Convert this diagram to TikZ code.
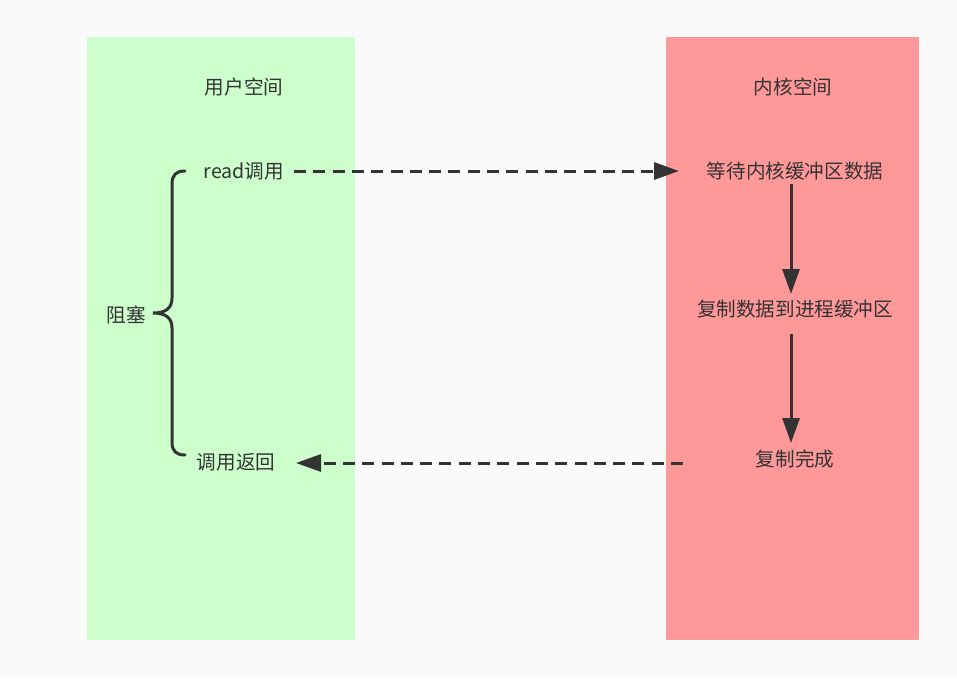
\documentclass[tikz,border=0pt]{standalone}
\usepackage{fontspec}
\setmainfont{Noto Sans CJK SC}
\usetikzlibrary{arrows.meta}
\definecolor{bg}{HTML}{FAFAFA}
\definecolor{usergreen}{HTML}{CCFFCC}
\definecolor{kernred}{HTML}{FF9999}
\definecolor{ink}{HTML}{333333}
\tikzset{
  lbl/.style={font=\fontsize{19.6}{21}\selectfont, text=ink, inner sep=0pt},
  flow/.style={draw=ink, line width=3pt, -{Triangle[length=25pt,width=17pt]}},
  dflow/.style={flow, dash pattern=on 12pt off 7.3pt},
}
\begin{document}
\begin{tikzpicture}[x=1pt,y=-1pt]
\fill[bg] (0,0) rectangle (957,678);
\useasboundingbox (0,0) rectangle (957,678);
\fill[usergreen] (87,37) rectangle (355,640);
\fill[kernred] (666,37) rectangle (919,640);

\node[lbl] (user) at (244,87) {用户空间};
\node[lbl] (kern) at (793,87) {内核空间};
\node[lbl] (read) at (244,171) {read调用};
\node[lbl] (wait) at (795,171) {等待内核缓冲区数据};
\node[lbl] (copy) at (795,309) {复制数据到进程缓冲区};
\node[lbl] (done) at (795,459) {复制完成};
\node[lbl] (ret) at (236,462) {调用返回};
\node[lbl] (block) at (126,315) {阻塞};

\coordinate (rs) at (294,171);
\coordinate (re) at (679,171);
\coordinate (bs) at (683,463);
\coordinate (be) at (296,463);
\coordinate (a1s) at (791,184);
\coordinate (a1e) at (791,294);
\coordinate (a2s) at (791,334);
\coordinate (a2e) at (791,443);

\draw[dflow] (rs) -- (re);
\draw[dflow] (bs) -- (be);
\draw[flow] (a1s) -- (a1e);
\draw[flow] (a2s) -- (a2e);

\coordinate (bt) at (185,171);
\coordinate (bm) at (153,313);
\coordinate (bb) at (185,455);
\draw[ink, line width=3pt, line cap=round]
  (bt) .. controls (176,171) and (172,175) .. (172,184)
  -- (172,298)
  .. controls (172,308) and (166,313) .. (bm)
  .. controls (166,313) and (172,318) .. (172,328)
  -- (172,442)
  .. controls (172,451) and (176,455) .. (bb);
\end{tikzpicture}
\end{document}
